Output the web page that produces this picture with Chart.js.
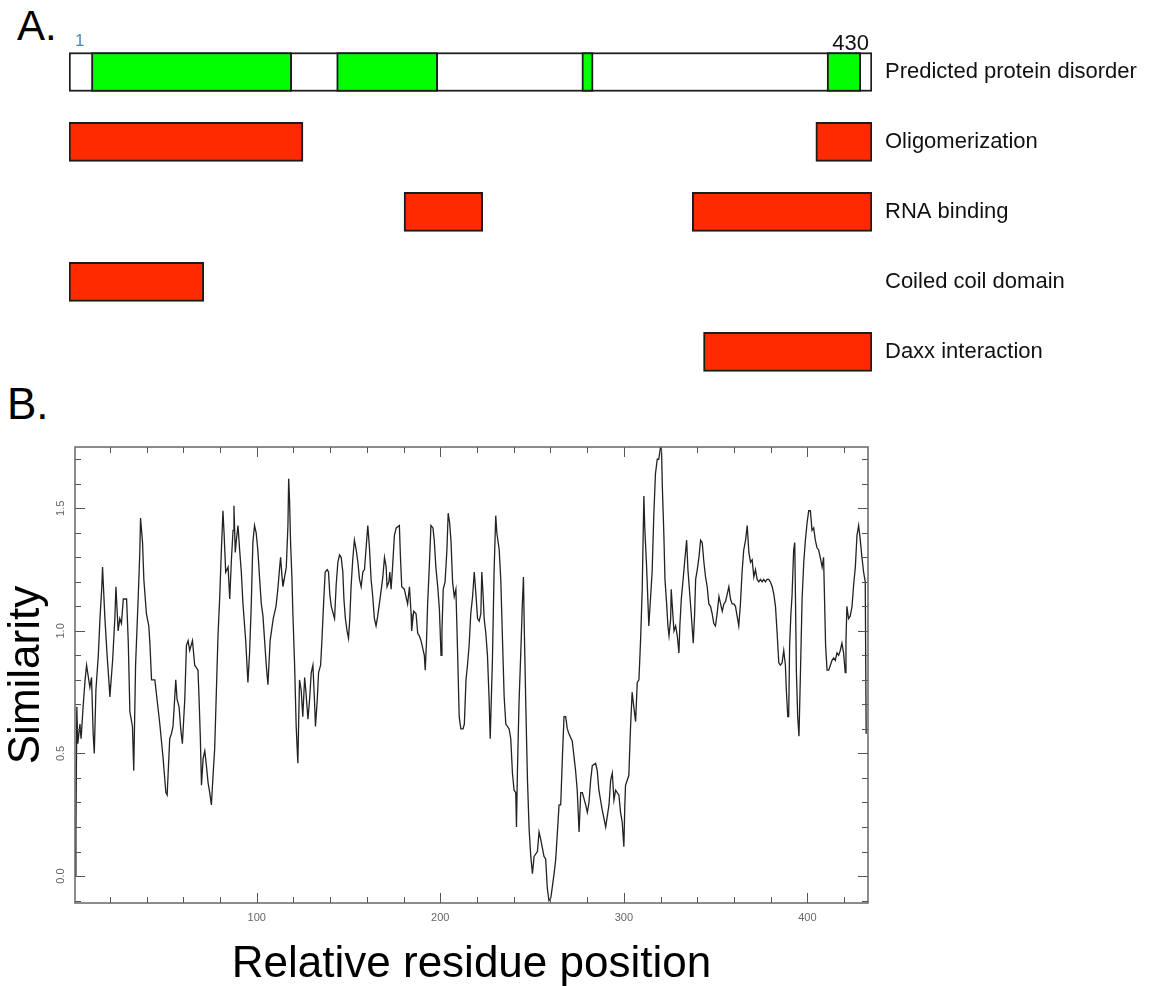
<!DOCTYPE html>
<html>
<head>
<meta charset="utf-8">
<script src="https://cdn.jsdelivr.net/npm/chart.js@4.4.1/dist/chart.umd.min.js"></script>
<style>
  html, body { margin: 0; padding: 0; background: #fff; overflow: hidden; }
  body { width: 1151px; height: 986px; position: relative; font-family: "Liberation Sans", Arial, sans-serif; }
  .panel { position: absolute; font-size: 44px; line-height: 1; color: #000; }
  canvas { position: absolute; left: 0; }
</style>
</head>
<body>
<div class="panel" style="left:17px; top:5px; font-size:42px">A.</div>
<div class="panel" style="left:7px; top:382px">B.</div>
<canvas id="domains" width="1151" height="413" style="top:0"></canvas>
<canvas id="similarity" width="1151" height="611" style="top:380px"></canvas>
<script>
const FONT = "'Liberation Sans', Arial, Helvetica, sans-serif";

// panel A: protein features, residue ranges
const features = ['Predicted protein disorder', 'Oligomerization', 'RNA binding', 'Coiled coil domain', 'Daxx interaction'];
const proteinSpan = [1, 430];
const endLabels = [1, 430];
const disorderStart = [13, 144, 275, 406];
const disorderEnd = [120, 198, 281, 424];
const domainFeature = ['Oligomerization', 'Oligomerization', 'RNA binding', 'RNA binding', 'Coiled coil domain', 'Daxx interaction'];
const domainStart = [1, 400, 180, 334, 1, 340];
const domainEnd = [126, 430, 222, 430, 73, 430];

// panel B: similarity profile
const residuePosition = [
  1, 1.5, 2, 2.5, 3.7, 4.3, 5.5, 6.5, 7.3, 8.5,
  9.1, 10, 10.9, 11.5, 12.4, 13.7, 14.6, 15.6, 16, 17.3,
  18.5, 19.6, 20, 21.5, 22.7, 23.3, 24.5, 25.4, 26.3, 27.3,
  29.1, 30, 30.9, 32.3, 33, 34, 35.4, 36.3, 36.7, 37.8,
  38.5, 39.9, 41.2, 41.8, 42.7, 44.5, 45.7, 47.2, 49, 50.5,
  51.2, 52.6, 53.5, 54.4, 55.9, 56.6, 57.7, 58.6, 59.5, 60.8,
  61.7, 62.6, 63.5, 65, 66.2, 68, 68.6, 69.3, 69.9, 70.8,
  71.7, 72.6, 73.5, 74.4, 75.3, 76.2, 77.1, 78, 78.9, 79.8,
  80.7, 81.6, 82.2, 83.1, 84.4, 85.3, 86.2, 87.1, 87.6, 88.3,
  88.9, 89.8, 90.7, 91.6, 92.5, 94, 95.2, 96.1, 97, 97.9,
  98.8, 99.7, 100.6, 101.6, 102.5, 103.4, 104.3, 105.2, 106.1, 107.3,
  109, 110.5, 111.5, 112.5, 113, 113.9, 114.3, 115.2, 116.1, 117,
  117.4, 117.9, 118.4, 119.2, 119.7, 120.6, 121.5, 122.4, 122.8, 123.3,
  124.2, 125.1, 126.1, 126.6, 127.9, 128.8, 129.7, 130.6, 131.5, 132,
  132.9, 133.7, 134.8, 135.5, 136.6, 137.3, 138.4, 139.1, 139.8, 140.6,
  142.4, 143.3, 144.2, 145.1, 146, 146.9, 147.5, 148.3, 149.2, 150,
  150.7, 151.4, 152.3, 153.2, 154.2, 155.1, 156, 156.9, 157.8, 158.7,
  159.6, 160.5, 161.4, 162.3, 163.2, 164.1, 165, 165.9, 167.7, 168.7,
  169.6, 170.5, 171, 172, 172.5, 173.2, 174, 175, 176, 177.7,
  178.3, 179, 180.4, 181.3, 182.2, 183.2, 184.1, 184.4, 185.5, 186.8,
  187.7, 188.6, 189.5, 191.3, 191.8, 192.5, 193.1, 194, 194.9, 196,
  196.7, 197.6, 198.6, 199.5, 200.4, 200.9, 201.6, 202.6, 203.6, 204.3,
  205.1, 205.8, 206.7, 207.6, 208.5, 209.4, 210.3, 211.2, 212.4, 213.1,
  214, 214.8, 215.7, 216.6, 217.6, 218.5, 219.4, 220.3, 221.2, 222.1,
  222.6, 223.3, 223.9, 224.8, 225.7, 226.6, 227.2, 227.9, 228.4, 229.3,
  230.2, 230.8, 232.1, 233, 233.9, 234.8, 235.7, 237.5, 238.4, 239.3,
  240.2, 241.1, 241.5, 242, 242.9, 243.8, 244.7, 245.3, 245.8, 246.6,
  247.5, 248.4, 249.3, 250.2, 251.1, 252.9, 253.8, 254.7, 256.5, 257.4,
  258.3, 259.2, 260.2, 261.1, 262, 262.9, 263.8, 264.7, 265.6, 266.5,
  267.4, 268.3, 269.2, 270.1, 271.9, 273.7, 274.6, 275.6, 276.5, 277.4,
  279.2, 280.1, 281, 281.9, 282.8, 284.6, 285.5, 286.4, 288.2, 290.1,
  291.9, 292.8, 293.7, 294.6, 295.5, 297.3, 298.2, 299.1, 300, 300.5,
  300.9, 302.7, 303.6, 304.5, 305.4, 306.4, 307.3, 308.2, 309.1, 310,
  310.9, 311.4, 312.4, 313.6, 314.5, 315.4, 316.3, 317.2, 318.2, 319,
  320, 320.5, 321, 321.8, 322.4, 323.3, 324, 324.6, 325.5, 325.8,
  326.4, 327.3, 328.2, 329.1, 330, 330.5, 331.3, 332.4, 333.1, 334.2,
  334.9, 336, 336.7, 337.8, 338.5, 339.1, 340, 340.9, 341.8, 342.7,
  343.6, 344.5, 345.4, 346.3, 347.2, 348.1, 349, 349.9, 350.8, 351.8,
  352.7, 353.6, 354.5, 355.4, 356.3, 357.2, 358.1, 359, 359.9, 360.8,
  361.7, 362.6, 363.5, 364.4, 365.3, 366.3, 367.2, 368.1, 369, 369.9,
  370.8, 371.7, 372.6, 373.5, 374.4, 375.3, 376.2, 377.1, 378, 378.9,
  379.8, 380.8, 381.7, 382.6, 383.5, 384.4, 385.3, 386.2, 387.1, 388,
  388.5, 389.3, 389.8, 390.3, 391, 391.6, 392.5, 393.1, 394, 394.7,
  395.4, 396.2, 397.1, 398, 398.9, 399.8, 400.7, 401.6, 402.5, 403.4,
  404.3, 405.2, 406.1, 407, 408, 408.8, 409.2, 409.9, 410.7, 411.6,
  412.5, 413.4, 414.3, 415.2, 416.1, 417, 417.9, 418.8, 419.7, 420.6,
  421, 421.5, 422.4, 423.3, 424.3, 425.2, 426.1, 427, 427.9, 428.8,
  429.7, 430.6, 431.5, 432,
];
const similarity = [
  0.00, 0.18, 0.69, 0.54, 0.62, 0.56, 0.70, 0.80, 0.86, 0.80,
  0.77, 0.81, 0.58, 0.50, 0.76, 0.90, 1.05, 1.18, 1.26, 1.05,
  0.90, 0.78, 0.73, 0.88, 1.05, 1.18, 1.00, 1.05, 1.03, 1.13,
  1.13, 0.96, 0.67, 0.61, 0.43, 0.86, 1.13, 1.32, 1.46, 1.36,
  1.21, 1.07, 1.02, 0.95, 0.80, 0.80, 0.72, 0.62, 0.48, 0.34,
  0.33, 0.56, 0.58, 0.61, 0.80, 0.72, 0.69, 0.60, 0.54, 0.72,
  0.94, 0.96, 0.92, 0.96, 0.86, 0.84, 0.72, 0.56, 0.37, 0.48,
  0.51, 0.45, 0.38, 0.34, 0.29, 0.41, 0.52, 0.75, 0.98, 1.13,
  1.32, 1.49, 1.40, 1.24, 1.26, 1.13, 1.29, 1.41, 1.51, 1.32,
  1.37, 1.43, 1.33, 1.24, 1.11, 0.96, 0.79, 0.91, 1.10, 1.36,
  1.43, 1.40, 1.33, 1.21, 1.11, 1.06, 0.96, 0.86, 0.78, 0.96,
  1.05, 1.10, 1.17, 1.26, 1.30, 1.21, 1.18, 1.22, 1.26, 1.43,
  1.62, 1.53, 1.37, 1.21, 1.07, 0.87, 0.61, 0.46, 0.61, 0.80,
  0.76, 0.65, 0.81, 0.77, 0.64, 0.72, 0.83, 0.86, 0.71, 0.61,
  0.71, 0.83, 0.86, 0.96, 1.14, 1.24, 1.25, 1.24, 1.15, 1.10,
  1.05, 1.19, 1.28, 1.31, 1.30, 1.24, 1.13, 1.05, 1.00, 0.97,
  1.05, 1.18, 1.29, 1.37, 1.33, 1.28, 1.21, 1.18, 1.24, 1.25,
  1.34, 1.43, 1.34, 1.21, 1.14, 1.05, 1.02, 1.06, 1.16, 1.22,
  1.30, 1.26, 1.18, 1.20, 1.24, 1.17, 1.26, 1.39, 1.42, 1.43,
  1.30, 1.18, 1.17, 1.14, 1.11, 1.18, 1.07, 1.00, 1.08, 1.07,
  0.99, 0.98, 0.96, 0.90, 0.84, 0.96, 1.11, 1.26, 1.43, 1.42,
  1.37, 1.26, 1.18, 1.09, 0.90, 1.00, 1.17, 1.20, 1.33, 1.48,
  1.44, 1.37, 1.20, 1.14, 1.17, 0.92, 0.65, 0.60, 0.60, 0.62,
  0.80, 0.86, 0.94, 1.07, 1.14, 1.24, 1.15, 1.05, 1.04, 1.07,
  1.24, 1.15, 1.05, 0.99, 0.90, 0.72, 0.56, 0.75, 0.88, 1.24,
  1.47, 1.40, 1.33, 1.20, 0.96, 0.73, 0.62, 0.60, 0.56, 0.42,
  0.35, 0.34, 0.20, 0.42, 0.71, 0.90, 1.11, 1.22, 0.99, 0.69,
  0.39, 0.19, 0.08, 0.01, 0.08, 0.10, 0.18, 0.15, 0.08, 0.07,
  -0.05, -0.10, -0.09, -0.04, 0.01, 0.07, 0.18, 0.29, 0.29, 0.48,
  0.65, 0.65, 0.60, 0.58, 0.55, 0.43, 0.35, 0.18, 0.34, 0.34,
  0.29, 0.26, 0.30, 0.39, 0.45, 0.46, 0.43, 0.35, 0.27, 0.20,
  0.29, 0.39, 0.42, 0.31, 0.35, 0.33, 0.26, 0.22, 0.12, 0.28,
  0.37, 0.41, 0.60, 0.75, 0.69, 0.63, 0.79, 0.80, 0.96, 1.17,
  1.55, 1.42, 1.26, 1.02, 1.13, 1.24, 1.47, 1.64, 1.70, 1.70,
  1.75, 1.74, 1.58, 1.39, 1.21, 1.11, 1.02, 0.98, 1.05, 1.17,
  1.10, 1.00, 1.02, 0.98, 0.91, 1.02, 1.13, 1.22, 1.28, 1.37,
  1.25, 1.14, 1.07, 0.95, 1.06, 1.21, 1.25, 1.30, 1.37, 1.36,
  1.28, 1.22, 1.18, 1.11, 1.10, 1.07, 1.03, 1.02, 1.07, 1.14,
  1.11, 1.08, 1.11, 1.12, 1.15, 1.18, 1.13, 1.11, 1.11, 1.10,
  1.06, 1.02, 1.11, 1.24, 1.33, 1.37, 1.43, 1.32, 1.28, 1.29,
  1.22, 1.25, 1.21, 1.20, 1.21, 1.20, 1.21, 1.20, 1.21, 1.21,
  1.20, 1.18, 1.15, 1.10, 0.99, 0.87, 0.86, 0.87, 0.92, 0.86,
  0.76, 0.65, 0.65, 0.94, 1.07, 1.14, 1.33, 1.36, 0.83, 0.65,
  0.57, 0.83, 1.13, 1.28, 1.37, 1.44, 1.49, 1.49, 1.41, 1.42,
  1.37, 1.34, 1.33, 1.30, 1.26, 1.30, 1.17, 0.94, 0.84, 0.84,
  0.86, 0.88, 0.89, 0.88, 0.91, 0.90, 0.92, 0.95, 0.91, 0.83,
  0.96, 1.10, 1.05, 1.06, 1.10, 1.19, 1.26, 1.39, 1.43, 1.37,
  1.30, 1.24, 1.20, 0.58,
];
const xLabelTicks = [100, 200, 300, 400];
const yLabelTicks = [0, 0.5, 1.0, 1.5];

Chart.defaults.font.family = FONT;

const isLabelTick = (list, v) => list.some((m) => Math.abs(m - v) < 1e-6);

// "1" and "430" written just above the sequence bar, placed by the x scale
const endMarks = {
  id: 'endMarks',
  afterDraw(chart) {
    const { ctx, scales: { x }, chartArea: a } = chart;
    ctx.save();
    ctx.textBaseline = 'alphabetic';
    ctx.fillStyle = '#4a86c5';
    ctx.font = `17px ${FONT}`;
    ctx.textAlign = 'left';
    ctx.fillText(String(endLabels[0]), x.getPixelForValue(endLabels[0]) + 6, a.top + 9);
    ctx.fillStyle = '#111';
    ctx.font = `22px ${FONT}`;
    ctx.textAlign = 'right';
    ctx.fillText(String(endLabels[1]), x.getPixelForValue(endLabels[1]) - 3, a.top + 13);
    ctx.restore();
  },
};

new Chart(document.getElementById('domains'), {
  type: 'bar',
  data: {
    labels: features,
    datasets: [
      {
        label: 'disorder',
        data: disorderStart.map((s, i) => ({ y: features[0], x: [s, disorderEnd[i]] })),
        backgroundColor: '#00ff00',
        order: 1,
      },
      {
        label: 'domains',
        data: domainStart.map((s, i) => ({ y: domainFeature[i], x: [s, domainEnd[i]] })),
        backgroundColor: '#ff2a00',
        order: 1,
      },
      {
        label: 'sequence',
        data: [{ y: features[0], x: proteinSpan }],
        backgroundColor: '#ffffff',
        order: 2,
      },
    ],
  },
  options: {
    indexAxis: 'y',
    responsive: false,
    animation: false,
    devicePixelRatio: 1,
    datasets: { bar: { grouped: false, barThickness: 39, borderWidth: 2, borderColor: '#1c1c1c', borderSkipped: false } },
    layout: { padding: { left: 69, top: 0, right: 0, bottom: 0 } },
    plugins: { legend: { display: false }, tooltip: { enabled: false } },
    scales: {
      x: {
        type: 'linear',
        position: 'top',
        min: proteinSpan[0],
        max: proteinSpan[1],
        grid: { display: false, drawTicks: false },
        border: { display: false },
        ticks: { display: false },
        afterFit: (scale) => { scale.height = 37; },
      },
      y: {
        type: 'category',
        position: 'right',
        grid: { display: false, drawTicks: false },
        border: { display: false },
        afterFit: (scale) => { scale.width = 279; },
        ticks: { padding: 13, color: '#111', font: { size: 22, family: FONT } },
      },
    },
  },
  plugins: [endMarks],
});

// ticks pointing inward on all four sides, plus the frame
const frameTicks = {
  id: 'frameTicks',
  afterDraw(chart) {
    const { ctx, chartArea: a, scales: { x, y } } = chart;
    const seg = (x1, y1, x2, y2) => { ctx.beginPath(); ctx.moveTo(x1, y1); ctx.lineTo(x2, y2); ctx.stroke(); };
    ctx.save();
    ctx.strokeStyle = '#555';
    ctx.lineWidth = 1;
    x.ticks.forEach((t) => {
      const px = Math.round(x.getPixelForValue(t.value)) + 0.5;
      const len = isLabelTick(xLabelTicks, t.value) ? 10 : 6;
      seg(px, a.top, px, a.top + len);
      seg(px, a.bottom, px, a.bottom - len);
    });
    y.ticks.forEach((t) => {
      const py = Math.round(y.getPixelForValue(t.value)) + 0.5;
      const len = isLabelTick(yLabelTicks, t.value) ? 10 : 6;
      seg(a.left, py, a.left + len, py);
      seg(a.right, py, a.right - len, py);
    });
    ctx.lineWidth = 1.5;
    ctx.strokeStyle = '#666';
    ctx.strokeRect(a.left, a.top, a.right - a.left, a.bottom - a.top);
    ctx.restore();
  },
};

new Chart(document.getElementById('similarity'), {
  type: 'line',
  data: {
    datasets: [{
      label: 'Similarity',
      data: residuePosition.map((r, i) => ({ x: r, y: similarity[i] })),
      borderColor: '#222',
      borderWidth: 1.3,
      pointRadius: 0,
      tension: 0,
      fill: false,
    }],
  },
  options: {
    responsive: false,
    animation: false,
    devicePixelRatio: 1,
    layout: { padding: { left: 0, top: 67, right: 283, bottom: 0 } },
    plugins: { legend: { display: false }, tooltip: { enabled: false } },
    scales: {
      x: {
        type: 'linear',
        min: 1,
        max: 433,
        grid: { display: false, drawTicks: false },
        border: { display: false },
        afterFit: (scale) => { scale.height = 88; },
        ticks: {
          stepSize: 20,
          includeBounds: false,
          autoSkip: false,
          maxRotation: 0,
          padding: 8,
          color: '#666',
          font: { size: 11 },
          callback: (v) => (isLabelTick(xLabelTicks, v) ? String(v) : ''),
        },
        title: { display: true, text: 'Relative residue position', color: '#000', font: { size: 44 }, padding: 0 },
      },
      y: {
        type: 'linear',
        min: -0.11,
        max: 1.75,
        grid: { display: false, drawTicks: false },
        border: { display: false },
        afterFit: (scale) => { scale.width = 75; },
        ticks: {
          stepSize: 0.1,
          includeBounds: false,
          minRotation: 90,
          maxRotation: 90,
          crossAlign: 'center',
          padding: 6,
          color: '#666',
          font: { size: 11 },
          callback: (v) => (isLabelTick(yLabelTicks, v) ? Number(v).toFixed(1) : ''),
        },
        title: { display: true, text: 'Similarity', color: '#000', font: { size: 44 }, padding: 0 },
      },
    },
  },
  plugins: [frameTicks],
});
</script>
</body>
</html>
